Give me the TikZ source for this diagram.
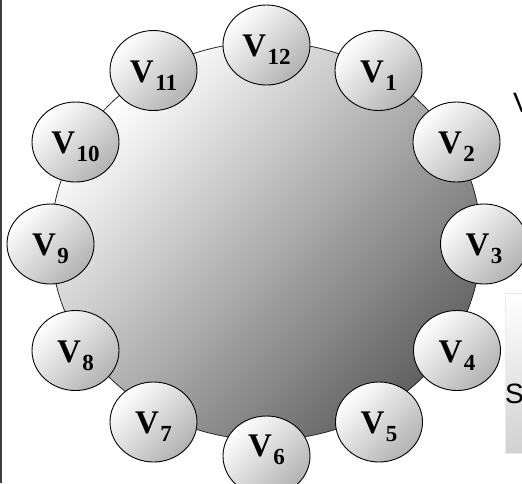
\documentclass[tikz,border=0pt]{standalone}
\usepackage{fontspec}
\setmainfont{Liberation Serif}
\newfontfamily\sansf{Liberation Sans}
\usetikzlibrary{shapes.geometric}
\newcommand\vsub[1]{V\kern1.5pt\raisebox{-8pt}{\fontsize{23}{23}\selectfont #1}}
\begin{document}
\begin{tikzpicture}[x=1pt,y=-1pt,
  hub/.style={ellipse, draw=black!85, line width=0.8pt, minimum width=430pt, minimum height=398pt, inner sep=0pt, top color=white, bottom color=black!62, shading angle=45},
  vert/.style={ellipse, draw=black, line width=0.9pt, minimum width=87pt, minimum height=80pt, inner sep=0pt, top color=white, bottom color=black!30, shading angle=45},
  vlab/.style={anchor=base, inner sep=0pt, font=\fontsize{33}{33}\selectfont\bfseries},
  side/.style={anchor=base west, inner sep=0pt, font=\sansf\fontsize{28}{28}\selectfont},
]
\useasboundingbox (0,0) rectangle (522,483);
\fill[white] (0,0) rectangle (522,483);
% left border line
\coordinate (lt) at (1,0);
\coordinate (lb) at (1,483);
\draw[line width=2pt, black!75] (lt) -- (lb);
% right partial panel
\shade[top color=white, bottom color=black!18, draw=black!8] (505,293) rectangle (540,453);
\node[side] (rv) at (513,112) {V};
\node[side] (rs) at (505,403) {S};
% hub
\node[hub] (hub) at (266,241) {};
% vertices
\foreach \n/\x/\y in {12/266.5/45, 1/378.5/70.5, 2/456.5/142, 3/484/244, 4/457/350.5, 5/379/422, 6/266.5/456, 7/153.5/422, 8/75.5/350.5, 9/50.5/244, 10/75.5/142, 11/153.5/70.5}{
  \node[vert] (e\n) at (\x,\y) {};
}
\foreach \n/\x/\y in {12/266.5/56.5, 1/378.5/82, 2/456.5/153.5, 3/484/255.5, 4/457/362, 5/379/433.5, 6/266.5/456, 7/153.5/433.5, 8/75.5/362, 9/50.5/255.5, 10/75.5/153.5, 11/153.5/82}{
  \node[vlab] (l\n) at (\x,\y) {\vsub{\n}};
}
\end{tikzpicture}
\end{document}
